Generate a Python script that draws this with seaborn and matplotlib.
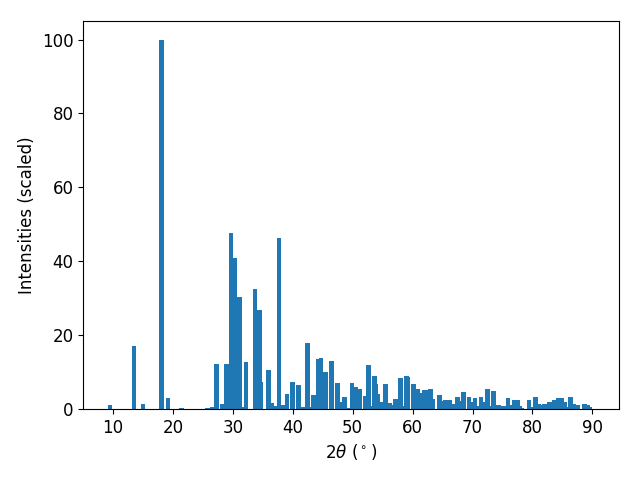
import matplotlib
matplotlib.use("agg")
import matplotlib.pyplot as plt
import seaborn as sns
import numpy as np

# peak positions (2theta, degrees) and scaled intensities
two_theta = [
    9.5, 13.5, 15.0, 18.1, 19.2, 21.4, 25.8, 26.6, 27.3, 28.2,
    28.9, 29.7, 30.3, 31.05, 31.7, 32.2, 33.7, 34.5, 34.7, 35.9,
    36.55, 36.9, 37.7, 38.05, 38.4, 39.05, 39.9, 40.9, 41.05, 41.7,
    42.5, 43.0, 43.4, 44.2, 44.7, 45.4, 46.4, 47.4, 47.9, 48.7,
    49.2, 49.9, 50.55, 51.2, 52.05, 52.7, 53.1, 53.7, 53.9, 54.1,
    54.5, 54.9, 55.5, 56.2, 56.9, 57.2, 58.0, 58.4, 59.0, 59.2,
    60.1, 60.9, 61.2, 61.5, 62.0, 62.4, 63.0, 63.4, 64.5, 64.9,
    65.5, 66.2, 66.7, 67.5, 67.9, 68.1, 68.5, 69.4, 69.8, 70.4,
    70.8, 71.4, 71.9, 72.5, 72.9, 73.5, 73.8, 74.4, 74.8, 75.1,
    75.9, 76.4, 77.0, 77.55, 77.9, 78.2, 78.6, 79.4, 79.8, 80.5,
    81.0, 81.3, 82.0, 82.8, 83.6, 84.35, 84.9, 85.4, 85.6, 86.4,
    86.9, 87.6, 88.7, 89.2, 89.5, 89.95,
]
intensity = [
    1.2, 17.1, 1.4, 100.0, 3.0, 0.3, 0.2, 0.5, 12.2, 1.4,
    12.2, 47.6, 40.8, 30.2, 0.5, 12.8, 32.6, 26.9, 7.3, 10.6,
    1.6, 0.8, 46.2, 0.6, 1.0, 4.1, 7.3, 6.5, 3.0, 0.5,
    17.9, 0.5, 3.8, 13.6, 13.9, 10.1, 13.0, 7.1, 1.9, 3.3,
    0.2, 7.1, 6.0, 5.4, 3.5, 12.0, 0.8, 9.0, 6.8, 4.1,
    0.5, 1.9, 6.8, 1.6, 1.1, 2.7, 8.4, 0.8, 9.0, 8.7,
    6.8, 5.4, 1.9, 4.3, 5.2, 5.2, 5.4, 2.7, 3.8, 2.2,
    2.4, 2.4, 1.4, 3.3, 2.2, 1.6, 4.6, 3.3, 1.9, 3.0,
    0.8, 3.3, 1.9, 5.4, 0.8, 4.9, 1.1, 1.1, 0.3, 0.8,
    3.0, 1.0, 2.4, 2.4, 0.8, 0.2, 0.1, 2.4, 0.5, 3.3,
    1.4, 1.1, 1.4, 1.9, 2.4, 3.0, 3.0, 1.9, 0.4, 3.3,
    1.4, 1.1, 1.4, 1.1, 0.5, 0.1,
]

plt.rcParams["font.size"] = 12
bar_color = sns.color_palette("tab10")[0]

fig, ax = plt.subplots(figsize=(6.4, 4.8), dpi=100)
ax.bar(two_theta, intensity, width=0.8, color=bar_color)

ax.set_xlabel(r"$2\theta$ ($^\circ$)")
ax.set_ylabel("Intensities (scaled)")
ax.set_xticks(np.arange(10, 91, 10))

# axes box placed to match the reference frame
fig.subplots_adjust(left=0.13, right=0.967, top=0.956, bottom=0.148)
fig.savefig("out.png", dpi=100)
